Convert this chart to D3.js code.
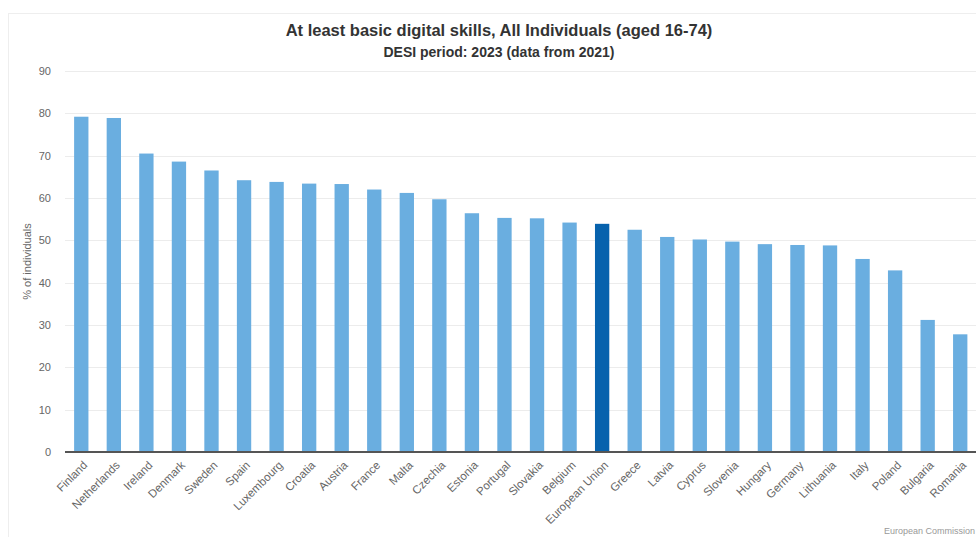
<!DOCTYPE html>
<html>
<head>
<meta charset="utf-8">
<script src="https://cdn.jsdelivr.net/npm/d3@7"></script>
<style>
  body { margin: 0; background: #fff; }
  svg { display: block; font-family: "Liberation Sans", Arial, sans-serif; }
</style>
</head>
<body>
<svg id="chart" width="976" height="537"></svg>
<script>
// data
const countries = ["Finland", "Netherlands", "Ireland", "Denmark", "Sweden", "Spain", "Luxembourg",
  "Croatia", "Austria", "France", "Malta", "Czechia", "Estonia", "Portugal", "Slovakia", "Belgium",
  "European Union", "Greece", "Latvia", "Cyprus", "Slovenia", "Hungary", "Germany", "Lithuania",
  "Italy", "Poland", "Bulgaria", "Romania"];
const values = [79.2, 78.9, 70.5, 68.6, 66.5, 64.2, 63.8, 63.4, 63.3, 62.0, 61.2, 59.7, 56.4, 55.3,
  55.2, 54.2, 53.9, 52.5, 50.8, 50.2, 49.7, 49.1, 48.9, 48.8, 45.6, 42.9, 31.2, 27.8];
const yTicks = [0, 10, 20, 30, 40, 50, 60, 70, 80, 90];

const svg = d3.select('#chart');

const margin = {left: 65, right: 0, top: 71, bottom: 85};
const width = 976, height = 537;

// faint frame of the chart container
svg.append('rect')
  .attr('x', 8.5).attr('y', 13.5)
  .attr('width', 1000).attr('height', 600)
  .attr('fill', 'none')
  .attr('stroke', '#eeeeee');

let x = d3.scaleBand()
  .domain(countries)
  .range([margin.left, width - margin.right + 0.5])
  .paddingInner(0.56)
  .paddingOuter(0.28);

let y = d3.scaleLinear()
  .domain([0, 90])
  .range([height - margin.bottom, margin.top]);

// gridlines
svg.append('g')
  .selectAll('line')
  .data(yTicks.filter(d => d > 0))
  .enter()
  .append('line')
  .attr('x1', margin.left)
  .attr('x2', width)
  .attr('y1', d => Math.round(y(d)) + 0.5)
  .attr('y2', d => Math.round(y(d)) + 0.5)
  .attr('stroke', '#ececec');

// y axis labels
let yAxis = svg.append('g')
  .attr('transform', 'translate(' + margin.left + ',0)')
  .call(d3.axisLeft(y).tickValues(yTicks).tickSize(0).tickPadding(14));
yAxis.select('.domain').remove();
yAxis.selectAll('text')
  .style('font-size', '11px')
  .style('fill', '#666');

svg.append('text')
  .attr('transform', 'translate(31,' + y(45) + ') rotate(-90)')
  .attr('text-anchor', 'middle')
  .style('font-size', '11px')
  .style('fill', '#666')
  .text('% of individuals');

// bars
svg.append('g')
  .selectAll('rect')
  .data(countries)
  .enter()
  .append('rect')
  .attr('x', d => x(d))
  .attr('width', x.bandwidth())
  .attr('y', (d, i) => y(values[i]))
  .attr('height', (d, i) => y(0) - y(values[i]))
  .style('fill', d => d == 'European Union' ? '#0762ad' : '#6aaee0');

// x axis line
let xAxis = svg.append('g')
  .attr('transform', 'translate(0,' + y(0) + ')')
  .call(d3.axisBottom(x).tickSize(0).tickFormat(''));
xAxis.select('.domain')
  .attr('stroke', '#555')
  .attr('stroke-width', 2)
  .attr('d', 'M' + margin.left + ',0H' + width);

// rotated category labels, each in its own group
svg.append('g')
  .selectAll('g')
  .data(countries)
  .enter()
  .append('g')
  .attr('transform', d => 'translate(' + (x(d) + x.bandwidth() / 2 + 4) + ',' + (y(0) + 11) + ')')
  .append('text')
  .attr('transform', 'rotate(-45)')
  .attr('text-anchor', 'end')
  .attr('dy', '0.35em')
  .style('font-size', '11.5px')
  .style('fill', '#666')
  .text(d => d);

// titles
svg.append('text')
  .attr('x', 499).attr('y', 36)
  .attr('text-anchor', 'middle')
  .style('font-size', '16.5px')
  .style('font-weight', 'bold')
  .style('fill', '#333')
  .text('At least basic digital skills, All Individuals (aged 16-74)');

svg.append('text')
  .attr('x', 499).attr('y', 57)
  .attr('text-anchor', 'middle')
  .style('font-size', '14px')
  .style('font-weight', 'bold')
  .style('fill', '#333')
  .text('DESI period: 2023 (data from 2021)');

// credits
svg.append('text')
  .attr('x', 884).attr('y', 534)
  .style('font-size', '9px')
  .style('fill', '#999')
  .text('European Commission');
</script>
</body>
</html>
